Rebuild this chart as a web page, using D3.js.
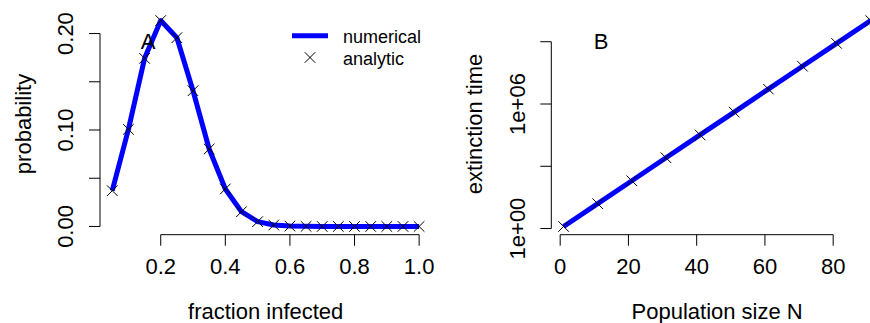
<!DOCTYPE html>
<html>
<head>
<meta charset="utf-8">
<script src="https://cdn.jsdelivr.net/npm/d3@7"></script>
<style>
  html, body { margin: 0; padding: 0; background: #fff; }
  svg { display: block; font-family: "Liberation Sans", Arial, sans-serif; }
</style>
</head>
<body>
<div id="chart"></div>
<script>
// Panel A: distribution of fraction infected
const fraction = [0.05, 0.10, 0.15, 0.20, 0.25, 0.30, 0.35, 0.40, 0.45, 0.50,
                  0.55, 0.60, 0.65, 0.70, 0.75, 0.80, 0.85, 0.90, 0.95, 1.00];
const probNumerical = [0.0371, 0.1007, 0.1743, 0.2135, 0.1957, 0.1407, 0.0803, 0.0389, 0.0153, 0.0050,
                       0.0015, 0.0004, 0.0001, 0, 0, 0, 0, 0, 0, 0];
const probAnalytic = [0.0371, 0.1007, 0.1743, 0.2135, 0.1957, 0.1407, 0.0803, 0.0389, 0.0153, 0.0050,
                      0.0015, 0.0004, 0.0001, 0, 0, 0, 0, 0, 0, 0];
const xTicksA = [0.2, 0.4, 0.6, 0.8, 1.0];
const yTicksA = [0, 0.05, 0.10, 0.15, 0.20];
const yLabelsA = [0, 0.10, 0.20];

// Panel B: extinction time vs population size
const popSize = [1, 11, 21, 31, 41, 51, 61, 71, 81, 91];
const timeNumerical = [1.26, 15.8, 200, 2570, 3.24e4, 4.07e5, 5.25e6, 6.61e7, 8.32e8, 1.05e10];
const timeAnalytic = [1.26, 15.8, 200, 2570, 3.24e4, 4.07e5, 5.25e6, 6.61e7, 8.32e8, 1.05e10];
const xTicksB = [0, 20, 40, 60, 80];
const yTicksB = [1, 1e3, 1e6, 1e9];
const yLabelsB = [1, 1e6];

const W = 870, H = 323;
const svg = d3.select('#chart').append('svg')
    .attr('width', W).attr('height', H);

const BLUE = '#0000ff';
const tickLen = 11;
const fs = 22;

// R-style 4% padding of the data range
function pad(ext) {
    const d = (ext[1] - ext[0]) * 0.04;
    return [ext[0] - d, ext[1] + d];
}

function cross(g, x, y, s) {
    g.append('path')
        .attr('d', `M${x - s},${y - s}L${x + s},${y + s}M${x - s},${y + s}L${x + s},${y - s}`)
        .attr('stroke', '#000').attr('stroke-width', 1).attr('fill', 'none');
}

function drawPanel(opt) {
    const g = svg.append('g');
    const x = opt.x, y = opt.y;
    const bottom = opt.bottom, left = opt.left;

    // line
    g.append('path')
        .datum(opt.xs.map((v, i) => [v, opt.line[i]]))
        .attr('fill', 'none')
        .attr('stroke', BLUE)
        .attr('stroke-width', 5)
        .attr('stroke-linejoin', 'round')
        .attr('d', d3.line().x(d => x(d[0])).y(d => y(d[1])));

    // markers
    opt.xs.forEach((v, i) => cross(g, x(v), y(opt.pts[i]), 5.3));

    // x axis
    const xt = opt.xTicks;
    g.append('line')
        .attr('x1', x(xt[0])).attr('x2', x(xt[xt.length - 1]))
        .attr('y1', bottom).attr('y2', bottom)
        .attr('stroke', '#000');
    xt.forEach(t => {
        g.append('line')
            .attr('x1', x(t)).attr('x2', x(t))
            .attr('y1', bottom).attr('y2', bottom + tickLen)
            .attr('stroke', '#000');
        g.append('text')
            .attr('x', x(t)).attr('y', 274)
            .attr('text-anchor', 'middle')
            .attr('font-size', fs)
            .text(opt.xFmt(t));
    });

    // y axis
    const yt = opt.yTicks;
    g.append('line')
        .attr('x1', left).attr('x2', left)
        .attr('y1', y(yt[0])).attr('y2', y(yt[yt.length - 1]))
        .attr('stroke', '#000');
    yt.forEach(t => {
        g.append('line')
            .attr('x1', left - tickLen).attr('x2', left)
            .attr('y1', y(t)).attr('y2', y(t))
            .attr('stroke', '#000');
    });
    opt.yLabels.forEach(t => {
        g.append('text')
            .attr('transform', `translate(${opt.yLabX},${y(t)}) rotate(-90)`)
            .attr('text-anchor', 'middle')
            .attr('font-size', fs)
            .text(opt.yFmt(t));
    });

    // axis titles
    g.append('text')
        .attr('x', (opt.rangeX[0] + opt.rangeX[1]) / 2).attr('y', 319)
        .attr('text-anchor', 'middle')
        .attr('font-size', fs)
        .text(opt.xTitle);
    g.append('text')
        .attr('transform', `translate(${opt.yTitleX},${(opt.rangeY[0] + opt.rangeY[1]) / 2 + 0.5}) rotate(-90)`)
        .attr('text-anchor', 'middle')
        .attr('font-size', fs)
        .text(opt.yTitle);

    // panel letter
    g.append('text')
        .attr('x', opt.letterX).attr('y', 49)
        .attr('text-anchor', 'middle')
        .attr('font-size', fs)
        .text(opt.letter);
    return g;
}

// ---- Panel A ----
const rxA = [100, 431.4], ry = [234.7, 12.3];
const xA = d3.scaleLinear().domain(pad(d3.extent(fraction))).range(rxA);
const yA = d3.scaleLinear().domain(pad([0, d3.max(probNumerical)])).range(ry);
const gA = drawPanel({
    x: xA, y: yA, xs: fraction, line: probNumerical, pts: probAnalytic,
    xTicks: xTicksA, yTicks: yTicksA, yLabels: yLabelsA,
    xFmt: d3.format('.1f'), yFmt: d3.format('.2f'),
    bottom: 234.7, left: 100, rangeX: rxA, rangeY: ry,
    yLabX: 73, yTitleX: 31,
    xTitle: 'fraction infected', yTitle: 'probability',
    letter: 'A', letterX: 148
});

// legend
gA.append('line')
    .attr('x1', 292).attr('x2', 328).attr('y1', 35.7).attr('y2', 35.7)
    .attr('stroke', BLUE).attr('stroke-width', 5);
cross(gA, 310, 57.5, 5.3);
gA.append('text').attr('x', 343).attr('y', 43).attr('font-size', 18).text('numerical');
gA.append('text').attr('x', 343).attr('y', 65).attr('font-size', 18).text('analytic');

// ---- Panel B ----
const rxB = [551.3, 883];
const xB = d3.scaleLinear().domain(pad(d3.extent(popSize))).range(rxB);
const logExt = pad(d3.extent(timeNumerical).map(Math.log10));
const yB = d3.scaleLog().domain(logExt.map(v => Math.pow(10, v))).range(ry);
drawPanel({
    x: xB, y: yB, xs: popSize, line: timeNumerical, pts: timeAnalytic,
    xTicks: xTicksB, yTicks: yTicksB, yLabels: yLabelsB,
    xFmt: d3.format('d'),
    yFmt: t => { const e = Math.round(Math.log10(t)); return '1e+' + String(e).padStart(2, '0'); },
    bottom: 234.7, left: 551.3, rangeX: rxB, rangeY: ry,
    yLabX: 525, yTitleX: 481.5,
    xTitle: 'Population size N', yTitle: 'extinction time',
    letter: 'B', letterX: 601
});
</script>
</body>
</html>
